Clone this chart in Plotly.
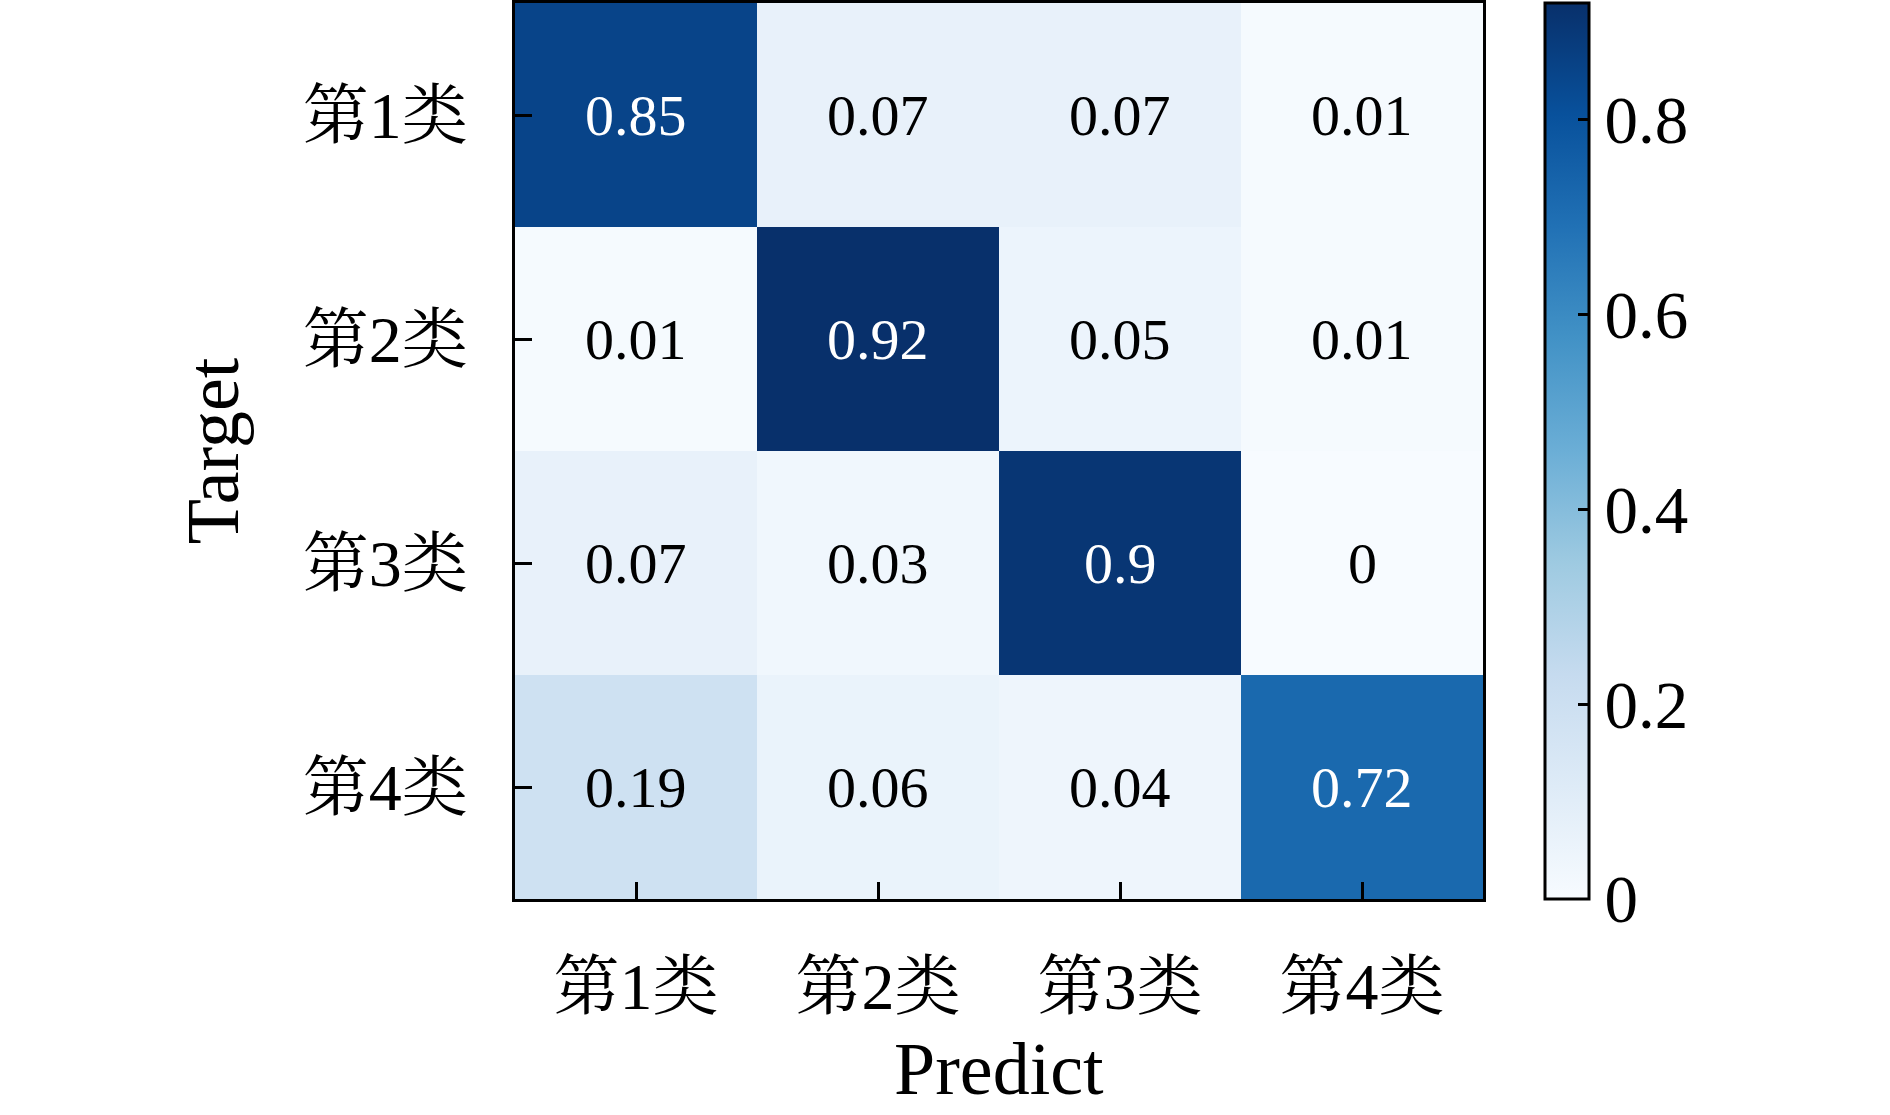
import plotly.graph_objects as go

predict_labels = ["第1类", "第2类", "第3类", "第4类"]
target_labels = ["第1类", "第2类", "第3类", "第4类"]
values = [
    [0.85, 0.07, 0.07, 0.01],
    [0.01, 0.92, 0.05, 0.01],
    [0.07, 0.03, 0.90, 0.00],
    [0.19, 0.06, 0.04, 0.72],
]
value_text = [
    ["0.85", "0.07", "0.07", "0.01"],
    ["0.01", "0.92", "0.05", "0.01"],
    ["0.07", "0.03", "0.9", "0"],
    ["0.19", "0.06", "0.04", "0.72"],
]
cbar_ticks = [0, 0.2, 0.4, 0.6, 0.8]
cbar_ticktext = ["0", "0.2", "0.4", "0.6", "0.8"]
x_title = "Predict"
y_title = "Target"

blues = ['rgb(247,251,255)', 'rgb(222,235,247)', 'rgb(198,219,239)',
         'rgb(158,202,225)', 'rgb(107,174,214)', 'rgb(66,146,198)',
         'rgb(33,113,181)', 'rgb(8,81,156)', 'rgb(8,48,107)']
cscale = [[i / (len(blues) - 1), c] for i, c in enumerate(blues)]

FONT = "Liberation Serif, Noto Serif CJK SC, Noto Sans CJK SC, serif"
zmax = 0.92

fig = go.Figure(go.Heatmap(
    z=values, x=predict_labels, y=target_labels,
    colorscale=cscale, zmin=0, zmax=zmax, xgap=0, ygap=0,
    colorbar=dict(
        x=1.064, xanchor="left", xref="paper",
        y=0.5, yanchor="middle", len=1.0, lenmode="fraction",
        thickness=44, outlinewidth=3, outlinecolor="black",
        ypad=0, xpad=0,
        tickvals=cbar_ticks, ticktext=cbar_ticktext,
        ticks="inside", ticklen=12, tickwidth=3, tickcolor="black",
        tickfont=dict(family=FONT, size=67, color="black"),
    ),
    hoverinfo="skip",
))

annotations = []
for i, row in enumerate(values):
    for j, v in enumerate(row):
        annotations.append(dict(
            x=predict_labels[j], y=target_labels[i], xref="x", yref="y",
            text=value_text[i][j], showarrow=False,
            font=dict(family=FONT, size=58,
                      color="white" if v > zmax / 2 else "black"),
        ))
annotations.append(dict(
    x=0.5, y=-0.2366, xref="paper", yref="paper", xanchor="center", yanchor="bottom",
    text=x_title, showarrow=False, borderpad=0,
    font=dict(family=FONT, size=74, color="black"),
))
fig.update_layout(annotations=annotations)

axis_common = dict(
    showline=True, linecolor="black", linewidth=3, mirror=True,
    ticks="inside", ticklen=17, tickwidth=3, tickcolor="black",
    showgrid=False, zeroline=False,
    tickfont=dict(family=FONT, size=66, color="black"),
)
fig.update_xaxes(**axis_common, ticklabelstandoff=28)
fig.update_yaxes(**axis_common, autorange="reversed", ticklabelstandoff=31,
                 title=dict(text=y_title, font=dict(family=FONT, size=74, color="black"), standoff=40))

fig.update_layout(
    width=1890, height=1115,
    margin=dict(l=515, r=407, t=3, b=216, autoexpand=False),
    paper_bgcolor="white", plot_bgcolor="white",
    font=dict(family=FONT, color="black"),
)

fig.write_html("out.html", config={"displayModeBar": False},
               post_script="document.body.style.margin='0';")
